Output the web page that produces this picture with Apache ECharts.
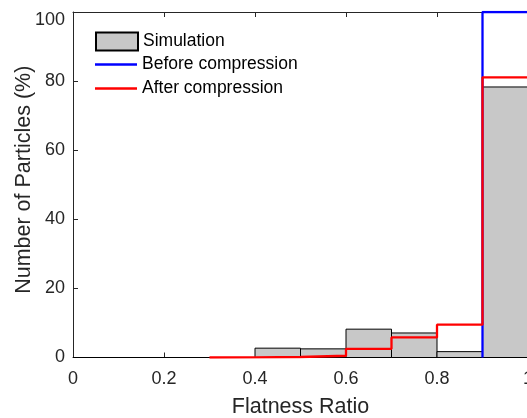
<!DOCTYPE html>
<html><head><meta charset="utf-8">
<script src="https://cdn.jsdelivr.net/npm/echarts@6/dist/echarts.min.js"></script>
<style>html,body{margin:0;padding:0;background:#fff}#c{width:527px;height:418px}</style>
</head><body><div id="c"></div>
<script>
// Histogram bins (width 0.1)
const binEdges = [0, 0.1, 0.2, 0.3, 0.4, 0.5, 0.6, 0.7, 0.8, 0.9, 1.0];
const simulation = [0, 0, 0, 0, 2.7, 2.5, 8.2, 7.1, 1.7, 78.3];
const beforeStart = 0.9;
const beforeValues = [100];
const afterStart = 0.3;
const afterValues = [0.05, 0.15, 0.5, 2.5, 5.8, 9.5, 81.1];
const xTicks = [0, 0.2, 0.4, 0.6, 0.8, 1];
const yTicks = [0, 20, 40, 60, 80, 100];

const FONT = 'Liberation Sans, Arial, sans-serif';
const TXT = '#262626';

const simData = simulation.map((v, i) => [binEdges[i], binEdges[i + 1], v]);
function stepPoints(start, vals) {
  const pts = [[start, 0]];
  vals.forEach((v, i) => {
    const x0 = +(start + i * 0.1).toFixed(2), x1 = +(start + (i + 1) * 0.1).toFixed(2);
    pts.push([x0, v], [x1, v]);
  });
  return pts;
}

const chart = echarts.init(document.getElementById('c'), null, {renderer: 'canvas'});
chart.setOption({
  animation: false,
  backgroundColor: '#fff',
  grid: {left: 73, top: 12, bottom: 60.5, right: -1, containLabel: false, outerBoundsMode: 'none'},
  xAxis: [{
    type: 'value', min: xTicks[0], max: xTicks[xTicks.length - 1], interval: 0.2,
    name: 'Flatness Ratio', nameLocation: 'middle', nameGap: 39, nameMoveOverlap: false,
    nameTextStyle: {fontFamily: FONT, fontSize: 21.5, color: TXT},
    axisLine: {show: true, onZero: false, lineStyle: {color: TXT, width: 1}},
    axisTick: {show: true, inside: true, length: 5, lineStyle: {color: TXT}},
    axisLabel: {fontFamily: FONT, fontSize: 18, color: TXT, margin: 13,
      formatter: v => String(+v.toFixed(1))},
    splitLine: {show: false}
  }, {
    type: 'value', position: 'top', min: 0, max: 1, interval: 0.2,
    axisLine: {show: true, onZero: false, lineStyle: {color: TXT, width: 1}},
    axisTick: {show: true, inside: true, length: 5, lineStyle: {color: TXT}},
    axisLabel: {show: false}, splitLine: {show: false}
  }],
  yAxis: {
    type: 'value', min: yTicks[0], max: yTicks[yTicks.length - 1], interval: 20,
    name: 'Number of Particles (%)', nameLocation: 'middle', nameGap: 38, nameMoveOverlap: false,
    nameTextStyle: {fontFamily: FONT, fontSize: 21.5, color: TXT, padding: [0, 0, 0, 10]},
    axisLine: {show: true, lineStyle: {color: TXT, width: 1}},
    axisTick: {show: true, inside: true, length: 5, lineStyle: {color: TXT}},
    axisLabel: {fontFamily: FONT, fontSize: 18, color: TXT, margin: 8,
      formatter: v => v === yTicks[yTicks.length - 1] ? '{top|' + v + '}' : String(v),
      rich: {top: {fontFamily: FONT, fontSize: 18, color: TXT, padding: [16, 0, 0, 0]}}},
    splitLine: {show: false}
  },
  legend: [{
    data: [{name: 'Simulation', icon: 'rect'}],
    left: 95, top: 31.5, padding: 0, itemWidth: 42, itemHeight: 18, itemGap: 5,
    textStyle: {fontFamily: FONT, fontSize: 17.5, color: '#000'}, selectedMode: false
  }, {
    data: [{name: 'Before compression', icon: 'rect'}],
    left: 95, top: 55.5, padding: 0, itemWidth: 42, itemHeight: 2.3,
    textStyle: {fontFamily: FONT, fontSize: 17.5, color: '#000'}, selectedMode: false
  }, {
    data: [{name: 'After compression', icon: 'rect'}],
    left: 95, top: 79.5, padding: 0, itemWidth: 42, itemHeight: 2.3,
    textStyle: {fontFamily: FONT, fontSize: 17.5, color: '#000'}, selectedMode: false
  }],
  series: [{
    name: 'Simulation', type: 'custom', xAxisIndex: 0,
    itemStyle: {color: '#c8c8c8', borderColor: '#000', borderWidth: 1},
    encode: {x: [0, 1], y: 2},
    renderItem: function (params, api) {
      const p0 = api.coord([api.value(0), 0]);
      const p1 = api.coord([api.value(1), api.value(2)]);
      return {
        type: 'rect',
        shape: {x: p0[0], y: p1[1], width: p1[0] - p0[0], height: p0[1] - p1[1]},
        style: {fill: '#c8c8c8', stroke: '#000', lineWidth: 1}
      };
    },
    data: simData, z: 2
  }, {
    name: 'Before compression', type: 'line', data: stepPoints(beforeStart, beforeValues),
    showSymbol: false, symbol: 'none', color: '#0000ff',
    lineStyle: {color: '#0000ff', width: 2.3}, z: 3
  }, {
    name: 'After compression', type: 'line', data: stepPoints(afterStart, afterValues),
    showSymbol: false, symbol: 'none', color: '#ff0000',
    lineStyle: {color: '#ff0000', width: 2.3}, z: 4
  }]
});
</script></body></html>
